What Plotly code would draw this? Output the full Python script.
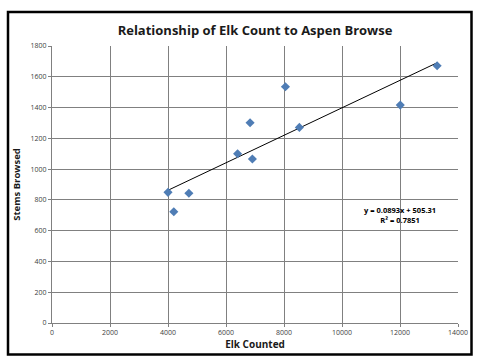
import plotly.graph_objects as go

# Data
elk_counted = [4000, 4200, 4720, 6400, 6830, 6910, 8050, 8530, 12010, 13280]
stems_browsed = [849, 723, 843, 1100, 1301, 1066, 1535, 1271, 1416, 1672]
slope = 0.0893
intercept = 505.31
r2 = 0.7851
x_ticks = [0, 2000, 4000, 6000, 8000, 10000, 12000, 14000]
y_ticks = [0, 200, 400, 600, 800, 1000, 1200, 1400, 1600, 1800]

W, H = 482, 363
L, R, T, B = 52, 24, 46, 40
pw, ph = W - L - R, H - T - B

def px(xp):
    return (xp - L) / pw

def py(yp):
    return (H - B - yp) / ph

x_fit = [min(elk_counted), max(elk_counted)]
y_fit = [slope * v + intercept for v in x_fit]

fig = go.Figure()
fig.add_trace(go.Scatter(x=x_fit, y=y_fit, mode="lines",
                         line=dict(color="black", width=1), showlegend=False))
fig.add_trace(go.Scatter(x=elk_counted, y=stems_browsed, mode="markers",
                         marker=dict(symbol="diamond", size=7, color="#4F7DB5"),
                         showlegend=False))

fig.add_annotation(x=12000, y=700, xref="x", yref="y",
                   text=f"<b>y = {slope}x + {intercept}<br>R² = {r2}</b>",
                   showarrow=False, font=dict(family="Open Sans", size=7.5, color="black"),
                   align="center")

fig.add_shape(type="rect", xref="paper", yref="paper",
              x0=px(8), x1=px(471.5), y0=py(354.5), y1=py(12),
              line=dict(color="black", width=2.5), layer="above")

tickfont = dict(family="Open Sans", size=7, color="#404040")
fig.update_layout(
    width=W, height=H,
    margin=dict(l=L, r=R, t=T, b=B, autoexpand=False),
    paper_bgcolor="white", plot_bgcolor="white",
    title=dict(text="<b>Relationship of Elk Count to Aspen Browse</b>",
               x=0.5, xref="paper", xanchor="center", y=1 - 30 / H, yanchor="middle",
               font=dict(family="Open Sans", size=13, color="#1a1a1a")),
    xaxis=dict(range=[0, 14000], tickvals=x_ticks, ticktext=[str(v) for v in x_ticks],
               showgrid=True, automargin=False,
               gridcolor="#808080", gridwidth=1, showline=True, linecolor="#808080",
               ticks="outside", ticklen=3, tickcolor="#808080", zeroline=False,
               tickfont=tickfont,
               title=dict(text="<b>Elk Counted</b>", standoff=4,
                          font=dict(family="Open Sans", size=10, color="#1a1a1a"))),
    yaxis=dict(range=[0, 1800], tickvals=y_ticks, ticktext=[str(v) for v in y_ticks],
               showgrid=True, automargin=False,
               gridcolor="#808080", gridwidth=1, showline=True, linecolor="#808080",
               ticks="outside", ticklen=3, tickcolor="#808080", zeroline=False,
               tickfont=tickfont,
               title=dict(text="<b>Stems Browsed</b>", standoff=8,
                          font=dict(family="Open Sans", size=9.5, color="#1a1a1a"))),
)

fig.write_html("out.html", config={"displayModeBar": False},
               post_script="document.body.style.margin='0';document.body.style.overflow='hidden';")
